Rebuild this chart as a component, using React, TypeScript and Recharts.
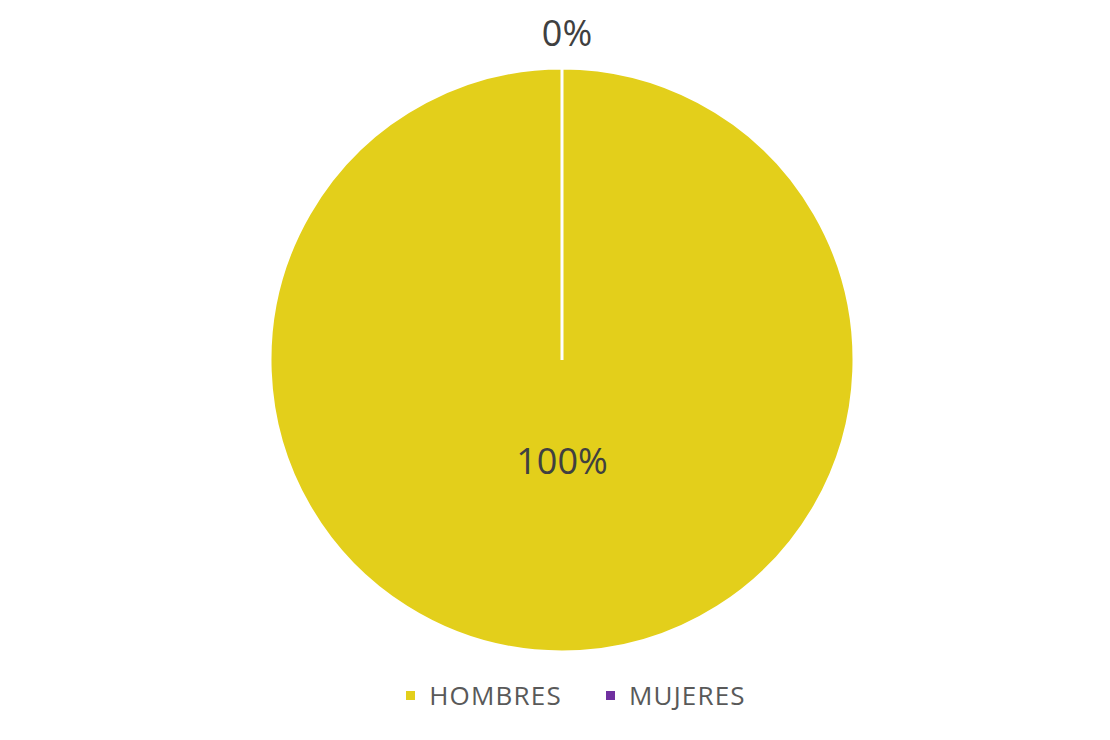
import React from 'react';
import { PieChart, Pie, Cell, Legend } from 'recharts';

const categories = ['HOMBRES', 'MUJERES'];
const values = [100, 0];
const percentLabels = ['100%', '0%'];
const colors = ['#E3CF1B', '#7030A0'];

const data = categories.map((name, i) => ({ name, value: values[i], label: percentLabels[i] }));

const RADIAN = Math.PI / 180;

const renderLabel = (props: any) => {
  const { cx, cy, midAngle, outerRadius, index } = props;
  // big slice label sits inside, zero slice label sits above the pie
  const r = index === 0 ? 100 : outerRadius + 36;
  const x = cx + r * Math.cos(-midAngle * RADIAN) + (index === 1 ? 5 : 0);
  const y = cy + r * Math.sin(-midAngle * RADIAN);
  return (
    <text
      x={x}
      y={y}
      fill="#404040"
      textAnchor="middle"
      dominantBaseline="central"
      fontSize={36}
      fontFamily="'Open Sans', sans-serif"
    >
      {data[index].label}
    </text>
  );
};

const renderLegend = () => (
  <div
    style={{
      display: 'flex',
      justifyContent: 'center',
      alignItems: 'center',
      gap: 44,
      paddingLeft: 42,
      fontFamily: "'Open Sans', sans-serif",
      fontSize: 26,
      letterSpacing: 1.2,
      color: '#595959',
    }}
  >
    {categories.map((name, i) => (
      <div key={name} style={{ display: 'flex', alignItems: 'center' }}>
        <span
          style={{
            width: 9,
            height: 9,
            background: colors[i],
            display: 'inline-block',
            marginRight: 14,
          }}
        />
        <span>{name}</span>
      </div>
    ))}
  </div>
);

const App: React.FC = () => {
  return (
    <div style={{ position: 'absolute', left: 0, top: 0, width: 1110, height: 740, background: '#fff' }}>
      <PieChart width={1110} height={740} margin={{ top: 0, right: 0, bottom: 0, left: 0 }}>
        <Pie
          data={data}
          dataKey="value"
          cx={562}
          cy={360}
          outerRadius={292}
          startAngle={90}
          endAngle={-270}
          stroke="#ffffff"
          strokeWidth={3}
          label={renderLabel}
          labelLine={false}
          isAnimationActive={false}
        >
          {data.map((entry, index) => (
            <Cell key={`cell-${index}`} fill={colors[index]} />
          ))}
        </Pie>
        <Legend
          content={renderLegend}
          wrapperStyle={{ top: 677, left: 0, width: 1110 }}
        />
      </PieChart>
    </div>
  );
};

export default App;
